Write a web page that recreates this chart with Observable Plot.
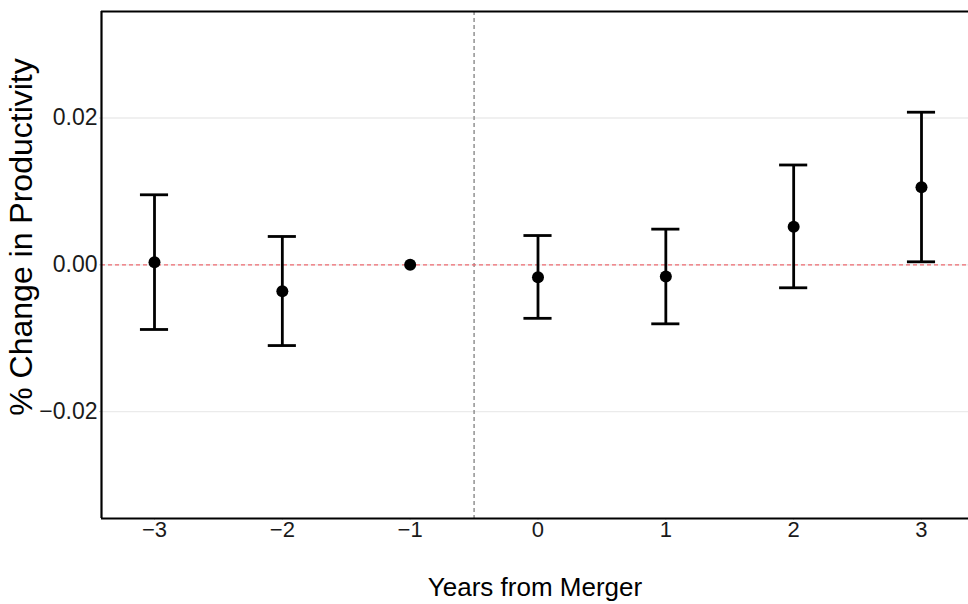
<!DOCTYPE html>
<html>
<head>
<meta charset="utf-8">
<script src="https://cdn.jsdelivr.net/npm/d3@7"></script>
<script src="https://cdn.jsdelivr.net/npm/@observablehq/plot@0.6"></script>
<style>
  html, body { margin: 0; padding: 0; background: #fff; }
  #chart svg { display: block; }
</style>
</head>
<body>
<div id="chart"></div>
<script>
const years = [-3, -2, -1, 0, 1, 2, 3];
const estimate = [0.00035, -0.00361, 0.0, -0.00169, -0.00160, 0.00518, 0.01057];
const upper = [0.00954, 0.00386, null, 0.00399, 0.00486, 0.01360, 0.02079];
const lower = [-0.00881, -0.01100, null, -0.00729, -0.00804, -0.00313, 0.00041];
const yTicks = [-0.02, 0, 0.02];
const xTicks = [-3, -2, -1, 0, 1, 2, 3];
const xTitle = "Years from Merger";
const yTitle = "% Change in Productivity";

const rows = years.map((y, i) => ({year: y, est: estimate[i], hi: upper[i], lo: lower[i]}));
const bars = rows.filter(d => d.hi != null);

const xDomain = [-3.4146, 3.3677];
const yDomain = [-0.03456, 0.03451];
const capHalf = 0.11;
const minus = s => s.replace("-", "\u2212");
const font = "Liberation Sans, Arial, Helvetica, sans-serif";

const chart = Plot.plot({
  width: 968,
  height: 604,
  marginLeft: 101,
  marginRight: 0,
  marginTop: 11,
  marginBottom: 86,
  style: {fontFamily: font, background: "#fff", color: "#1a1a1a", fontSize: "22px"},
  x: {type: "linear", domain: xDomain},
  y: {type: "linear", domain: yDomain},
  marks: [
    Plot.ruleY(yTicks, {stroke: "#ebebeb", strokeWidth: 1.3}),
    Plot.ruleX([-0.5], {stroke: "#808080", strokeWidth: 1.3, strokeDasharray: "4,3"}),
    Plot.ruleY([0], {stroke: "#ee6a70", strokeWidth: 1.3, strokeDasharray: "4,3"}),
    Plot.ruleX(bars, {x: "year", y1: "lo", y2: "hi", stroke: "#000", strokeWidth: 2.8}),
    Plot.ruleY(bars, {y: "hi", x1: d => d.year - capHalf, x2: d => d.year + capHalf, stroke: "#000", strokeWidth: 2.8}),
    Plot.ruleY(bars, {y: "lo", x1: d => d.year - capHalf, x2: d => d.year + capHalf, stroke: "#000", strokeWidth: 2.8}),
    Plot.dot(rows, {x: "year", y: "est", r: 6, fill: "#000", stroke: "none"}),
    Plot.axisY({ticks: yTicks, tickFormat: d => minus(d3.format(".2f")(d)), tickSize: 2, tickPadding: 2, stroke: "#d0d0d0", fontSize: 23, fill: "#1a1a1a", label: null}),
    Plot.axisX({ticks: xTicks, tickFormat: d => minus(String(d)), tickSize: 2, tickPadding: 1, stroke: "#d0d0d0", fontSize: 22, fill: "#1a1a1a", label: null}),
    Plot.ruleX([xDomain[0]], {stroke: "#000", strokeWidth: 2.2}),
    Plot.ruleY([yDomain[0], yDomain[1]], {stroke: "#000", strokeWidth: 2.2}),
    Plot.text([xTitle], {frameAnchor: "bottom", dy: 77, fontSize: 26, fill: "#000", lineAnchor: "bottom"}),
    Plot.text([yTitle], {frameAnchor: "left", dx: -92, dy: -28, rotate: -90, fontSize: 32, fill: "#000", textAnchor: "middle", lineAnchor: "top"})
  ]
});
document.getElementById("chart").appendChild(chart);
</script>
</body>
</html>
